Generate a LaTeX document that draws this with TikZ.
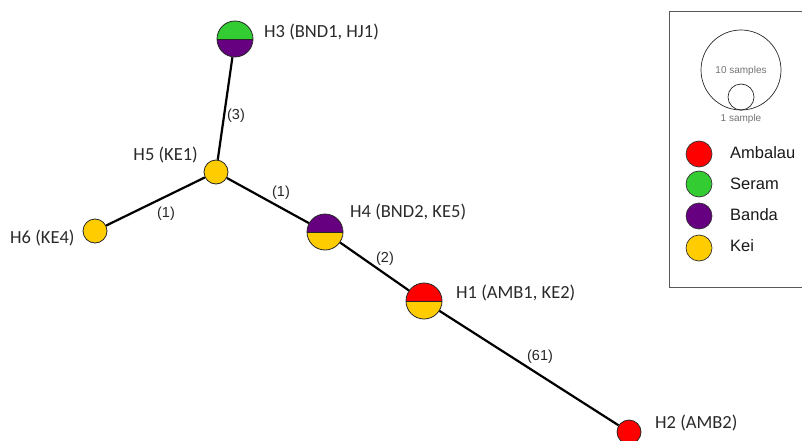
\documentclass[tikz,border=0pt]{standalone}
\usepackage{fontspec}
\setmainfont{Carlito}
\newfontfamily\arialfont{Liberation Sans}
\definecolor{cAmb}{HTML}{FF0000}
\definecolor{cSer}{HTML}{33CC33}
\definecolor{cBan}{HTML}{660080}
\definecolor{cKei}{HTML}{FFCC00}
\definecolor{labgray}{HTML}{2A2A2A}
\tikzset{
  hap/.style={circle, draw=black!85, line width=0.8pt, inner sep=0pt, minimum size=#1},
  hap/.default=24pt,
  half/.style n args={3}{hap=#3, path picture={
      \fill[#1] (path picture bounding box.north west) rectangle (path picture bounding box.east);
      \fill[#2] (path picture bounding box.west) rectangle (path picture bounding box.south east);
      \draw[line width=0.9pt, black!85] (path picture bounding box.west) -- (path picture bounding box.east);}},
  link/.style={line width=2.2pt, black},
  hlabel/.style={font=\fontsize{18.5}{20}\selectfont, text=labgray, inner sep=0pt},
  elabel/.style={font=\arialfont\fontsize{14.5}{16}\selectfont, text=black!85, inner sep=0pt},
  leglabel/.style={font=\arialfont\fontsize{16.5}{18}\selectfont, text=black!90, inner sep=0pt, anchor=west},
  legdot/.style={circle, draw=black!80, line width=0.7pt, inner sep=0pt, minimum size=26pt},
  tiny/.style={font=\arialfont\fontsize{10}{11}\selectfont, text=black!55, inner sep=0pt}
}
\begin{document}
\begin{tikzpicture}[x=1pt, y=-1pt]
\useasboundingbox (0,0) rectangle (802,441);
% haplotype nodes
\node[half={cSer}{cBan}{36pt}] (h3) at (235,39) {};
\node[hap, fill=cKei] (h5) at (216,172) {};
\node[hap, fill=cKei] (h6) at (95,231) {};
\node[half={cBan}{cKei}{36pt}] (h4) at (325,232) {};
\node[half={cAmb}{cKei}{36pt}] (h1) at (424,301) {};
\node[hap, fill=cAmb] (h2) at (629,432) {};
% connectors
\draw[link] (h3) -- (h5);
\draw[link] (h5) -- (h6);
\draw[link] (h5) -- (h4);
\draw[link] (h4) -- (h1);
\draw[link] (h1) -- (h2);
% mutation labels
\node[elabel] (m3) at (236,116) {(3)};
\node[elabel] (m1a) at (281,193) {(1)};
\node[elabel] (m1b) at (166,214) {(1)};
\node[elabel] (m2) at (385,259) {(2)};
\node[elabel] (m61) at (540,357) {(61)};
% haplotype labels
\node[hlabel, anchor=west] (l3) at (264,32) {H3 (BND1, HJ1)};
\node[hlabel, anchor=east] (l5) at (198,155) {H5 (KE1)};
\node[hlabel, anchor=west] (l6) at (10,238) {H6 (KE4)};
\node[hlabel, anchor=west] (l4) at (350,212) {H4 (BND2, KE5)};
\node[hlabel, anchor=west] (l1) at (456,293) {H1 (AMB1, KE2)};
\node[hlabel, anchor=west] (l2) at (655,423) {H2 (AMB2)};
% legend
\draw[line width=1pt, black!65] (669,12) rectangle (812,287);
\node[circle, draw=black!85, line width=0.7pt, minimum size=80pt, inner sep=0pt] (big) at (741,70) {};
\node[circle, draw=black!85, line width=0.7pt, minimum size=26pt, inner sep=0pt] (small) at (741,97) {};
\node[tiny] (t10) at (741,71) {10 samples};
\node[tiny] (t1) at (741,119) {1 sample};
\node[legdot, fill=cAmb] (dA) at (699,154) {};
\node[legdot, fill=cSer] (dS) at (699,184) {};
\node[legdot, fill=cBan] (dB) at (699,216) {};
\node[legdot, fill=cKei] (dK) at (699,248) {};
\node[leglabel] (tA) at (730,153) {Ambalau};
\node[leglabel] (tS) at (730,184) {Seram};
\node[leglabel] (tB) at (730,215) {Banda};
\node[leglabel] (tK) at (730,246) {Kei};
\end{tikzpicture}
\end{document}
